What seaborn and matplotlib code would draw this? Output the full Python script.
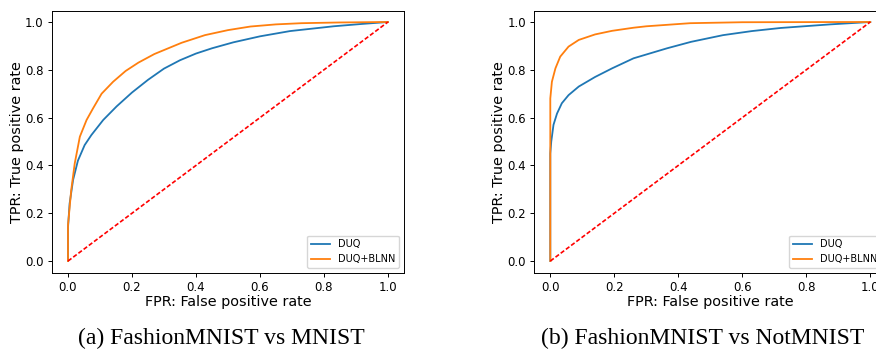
import pandas as pd
import matplotlib
matplotlib.use("Agg")
import matplotlib.pyplot as plt
import seaborn as sns

# (a) FashionMNIST vs MNIST
a_duq_fpr = [0, 0.0, 0.005, 0.016, 0.031, 0.052, 0.073, 0.11, 0.152, 0.2, 0.25,
             0.3, 0.35, 0.4, 0.45, 0.517, 0.6, 0.694, 0.83, 0.92, 1.0]
a_duq_tpr = [0, 0.14, 0.24, 0.34, 0.42, 0.485, 0.527, 0.59, 0.647, 0.705, 0.758,
             0.805, 0.84, 0.868, 0.89, 0.915, 0.94, 0.962, 0.982, 0.992, 1.0]
a_blnn_fpr = [0, 0.0, 0.01, 0.021, 0.037, 0.058, 0.078, 0.105, 0.141, 0.18, 0.22,
              0.27, 0.355, 0.428, 0.5, 0.57, 0.65, 0.73, 0.85, 1.0]
a_blnn_tpr = [0, 0.15, 0.296, 0.408, 0.52, 0.59, 0.638, 0.70, 0.75, 0.795, 0.83,
              0.866, 0.913, 0.945, 0.966, 0.981, 0.99, 0.995, 0.998, 1.0]

# (b) FashionMNIST vs NotMNIST
b_duq_fpr = [0, 0.0, 0.003, 0.01, 0.021, 0.036, 0.057, 0.089, 0.14, 0.193, 0.26,
             0.365, 0.44, 0.54, 0.63, 0.72, 0.875, 1.0]
b_duq_tpr = [0, 0.45, 0.50, 0.57, 0.617, 0.66, 0.694, 0.73, 0.77, 0.806, 0.848,
             0.89, 0.917, 0.945, 0.962, 0.975, 0.99, 1.0]
b_blnn_fpr = [0, 0.0, 0.005, 0.016, 0.031, 0.057, 0.089, 0.14, 0.193, 0.26,
              0.3, 0.4375, 0.6, 1.0]
b_blnn_tpr = [0, 0.68, 0.75, 0.806, 0.855, 0.897, 0.925, 0.948, 0.963, 0.976,
              0.982, 0.995, 0.999, 1.0]

captions = ["(a) FashionMNIST vs MNIST", "(b) FashionMNIST vs NotMNIST"]

panels = [(a_duq_fpr, a_duq_tpr, a_blnn_fpr, a_blnn_tpr),
          (b_duq_fpr, b_duq_tpr, b_blnn_fpr, b_blnn_tpr)]

plt.rcParams["font.family"] = ["DejaVu Sans"]
plt.rcParams["axes.linewidth"] = 0.7
plt.rcParams["xtick.major.size"] = 3
plt.rcParams["ytick.major.size"] = 3
plt.rcParams["xtick.major.width"] = 0.7
plt.rcParams["ytick.major.width"] = 0.7

fig = plt.figure(figsize=(8.76, 3.5), dpi=100)
lefts = [52 / 876, 534.3 / 876]
caption_x = [221 / 876, 703 / 876]

for i, (f1, t1, f2, t2) in enumerate(panels):
    ax = fig.add_axes([lefts[i], 0.22, 0.4018, 0.7486])
    df = pd.concat([
        pd.DataFrame({"fpr": f1, "tpr": t1, "model": "DUQ"}),
        pd.DataFrame({"fpr": f2, "tpr": t2, "model": "DUQ+BLNN"}),
    ])
    sns.lineplot(data=df, x="fpr", y="tpr", hue="model", estimator=None,
                 sort=False, palette=["#1f77b4", "#ff7f0e"], linewidth=1.3, ax=ax)
    ax.plot([0, 1], [0, 1], "r--", linewidth=1.2, dashes=(2.6, 1.3))
    ax.set_xlim(-0.05, 1.05)
    ax.set_ylim(-0.05, 1.046)
    ax.set_xticks([0, 0.2, 0.4, 0.6, 0.8, 1.0])
    ax.set_yticks([0, 0.2, 0.4, 0.6, 0.8, 1.0])
    ax.tick_params(labelsize=8.5, pad=3)
    ax.set_xlabel("FPR: False positive rate", fontsize=10.4, labelpad=0.5)
    ax.set_ylabel("TPR: True positive rate", fontsize=10.4, labelpad=1)
    ax.legend(loc="lower right", fontsize=7, title=None)
    fig.text(caption_x[i], 0.018, captions[i], ha="center", va="baseline",
             fontsize=17, family="Liberation Serif")

fig.savefig("out.png", dpi=100)
